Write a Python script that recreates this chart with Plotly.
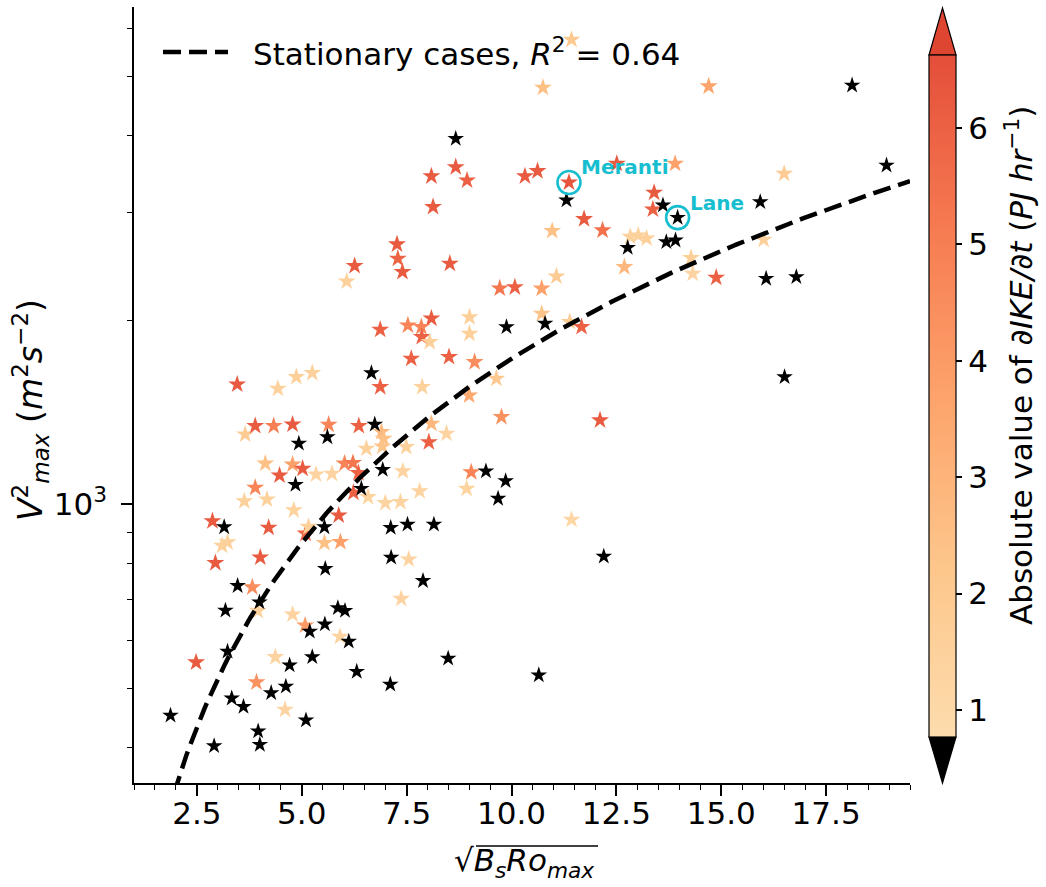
import numpy as np
import plotly.graph_objects as go

# ---------------- data ----------------
x_vals = [11.43, 10.75, 14.70, 18.12, 18.94, 16.50, 8.67, 8.67, 8.94, 8.09,
          8.13, 10.32, 10.62, 11.37, 11.31, 12.51, 13.90, 13.40, 13.61, 13.37,
          13.96, 11.73, 12.17, 10.97, 12.83, 13.02, 13.22, 12.77, 13.69, 13.91,
          12.69, 14.28, 14.32, 14.88, 16.07, 16.79, 15.93, 16.01, 16.51, 12.11,
          12.20, 10.65, 11.43, 9.88, 10.80, 10.72, 11.39, 11.67, 9.76, 9.64,
          9.72, 10.08, 10.72, 11.07, 7.27, 7.29, 7.40, 8.53, 6.26, 6.07,
          8.09, 7.53, 7.85, 7.86, 8.05, 9.00, 9.00, 6.87, 7.61, 8.51,
          9.12, 6.66, 6.87, 7.87, 3.46, 4.43, 4.87, 5.25, 8.99, 3.65,
          3.89, 4.33, 4.78, 4.93, 5.64, 5.61, 6.36, 6.74, 6.90, 6.95,
          6.54, 6.92, 7.49, 8.09, 8.03, 8.45, 9.04, 9.39, 9.86, 9.68,
          8.93, 7.81, 4.13, 4.78, 5.02, 4.47, 5.34, 5.72, 6.02, 6.22,
          6.35, 6.93, 7.41, 3.89, 3.63, 4.17, 4.81, 4.85, 6.42, 6.58,
          6.23, 6.99, 7.35, 2.87, 3.15, 4.21, 5.88, 5.54, 7.12, 7.52,
          8.15, 3.10, 3.23, 5.09, 5.16, 5.54, 5.92, 2.94, 4.01, 5.56,
          7.13, 7.55, 7.89, 7.37, 3.47, 3.82, 3.99, 3.95, 3.18, 4.78,
          5.08, 5.19, 5.55, 5.86, 6.03, 5.91, 6.12, 3.23, 2.48, 4.37,
          4.71, 5.25, 6.31, 8.49, 3.92, 4.62, 4.27, 3.33, 3.61, 4.60,
          7.11, 5.10, 1.87, 3.96, 4.00, 2.91]

y_vals = [5744, 4797, 4820, 4837, 3580, 3470, 3958, 3557, 3383, 3436,
          3061, 3436, 3504, 3357, 3139, 3603, 3603, 3231, 3081, 3034,
          2941, 2925, 2804, 2797, 2738, 2751, 2720, 2626, 2683, 2700,
          2442, 2527, 2382, 2347, 2338, 2352, 3119, 2707, 1615, 1372,
          822, 526, 944, 1949, 1974, 2049, 1986, 1949, 1389, 1605,
          2254, 2263, 2252, 2358, 2660, 2521, 2397, 2474, 2452, 2314,
          2012, 1961, 1949, 1877, 1842, 2023, 1901, 1930, 1730, 1741,
          1708, 1639, 1555, 1555, 1570, 1545, 1615, 1639, 1507, 1301,
          1343, 1343, 1351, 1257, 1350, 1288, 1343, 1351, 1313, 1280,
          1233, 1244, 1241, 1355, 1264, 1305, 1129, 1133, 1092, 1022,
          1061, 1051, 1166, 1162, 1144, 1115, 1119, 1122, 1166, 1169,
          1125, 1139, 1133, 1065, 1012, 1019, 978, 1077, 1061, 1028,
          1045, 1005, 1009, 939, 918, 916, 959, 918, 916, 927,
          927, 856, 867, 896, 919, 865, 868, 802, 819, 785,
          819, 813, 750, 701, 736, 732, 692, 670, 671, 661,
          634, 620, 637, 677, 670, 608, 597, 575, 552, 563,
          546, 563, 533, 560, 512, 504, 492, 482, 467, 462,
          508, 444, 452, 426, 405, 403]

# |dIKE/dt| (PJ/hr); values below the colour-bar minimum are drawn black
c_vals = [2.0, 2.5, 3.6, 0.4, 0.4, 1.8, 0.4, 6.2, 6.0, 6.2,
          6.2, 6.2, 6.2, 6.4, 0.4, 6.2, 3.8, 6.2, 0.4, 6.0,
          0.4, 6.2, 5.5, 2.5, 1.5, 1.5, 1.6, 0.4, 0.4, 0.4,
          2.8, 1.6, 1.3, 6.0, 0.4, 0.4, 0.4, 1.5, 0.4, 6.2,
          0.4, 0.4, 1.2, 0.4, 0.4, 2.3, 1.8, 6.0, 4.3, 2.0,
          5.3, 6.0, 3.8, 1.8, 6.2, 5.9, 6.2, 6.2, 6.2, 1.5,
          6.2, 4.8, 4.8, 6.0, 1.6, 1.6, 1.6, 6.0, 6.0, 6.0,
          4.5, 0.4, 6.0, 1.5, 6.2, 1.5, 1.6, 1.5, 3.5, 1.8,
          6.2, 5.0, 6.2, 0.4, 4.8, 0.4, 6.0, 0.4, 2.8, 2.5,
          1.5, 2.3, 1.5, 2.8, 6.0, 1.3, 4.8, 0.4, 0.4, 0.4,
          1.4, 1.3, 2.5, 3.8, 6.2, 6.2, 1.3, 1.3, 4.8, 5.3,
          6.0, 0.4, 1.3, 4.8, 1.5, 1.5, 1.4, 0.4, 0.4, 1.4,
          6.0, 1.3, 1.3, 6.2, 0.4, 6.2, 6.2, 0.4, 0.4, 0.4,
          0.4, 1.5, 1.5, 5.8, 1.5, 2.5, 3.8, 6.2, 6.2, 0.4,
          0.4, 1.3, 0.4, 1.3, 0.4, 4.5, 0.4, 1.5, 0.4, 1.3,
          4.0, 0.4, 0.4, 0.4, 0.4, 1.3, 0.4, 0.4, 6.2, 1.3,
          0.4, 0.4, 0.4, 0.4, 4.3, 0.4, 0.4, 0.4, 0.4, 1.3,
          0.4, 0.4, 0.4, 0.4, 0.4, 0.4]

fit_slope = 173.0          # stationary-case fit: V^2 = a * sqrt(Bs Ro)
fit_r2 = 0.64

highlight_names = ["Meranti", "Lane"]
highlight_x = [11.37, 13.96]
highlight_y = [3357, 2941]

x_ticks = [2.5, 5.0, 7.5, 10.0, 12.5, 15.0, 17.5]
y_ticks = [1000]
y_ticktext = ["10<sup>3</sup>"]
cbar_ticks = [1, 2, 3, 4, 5, 6]
c_min, c_max = 0.768, 6.627

x_title = "√<i>B<sub>s</sub>Ro<sub>max</sub></i>"
y_title = "<i>V</i><sup>2</sup><sub><i>max</i></sub> (<i>m</i><sup>2</sup><i>s</i><sup>−2</sup>)"
c_title = "Absolute value of <i>∂IKE/∂t</i> (<i>PJ hr</i><sup>−1</sup>)"

# ---------------- style / geometry ----------------
W, H = 1046, 887
ML, MR, MT, MB = 134, 136, 7, 104
PW, PH = W - ML - MR, H - MT - MB
FONT = "DejaVu Sans"
FS = 31
CYAN = "#17becf"
colorscale = [[0.0, "#fddcad"], [0.25, "#fdc68b"], [0.5, "#fda36b"],
              [0.75, "#f67a51"], [1.0, "#e44e3a"]]
OVER = "#df4632"

def px2paper(px, py):
    return (px - ML) / PW, (H - MB - py) / PH

x_arr = np.array(x_vals)
y_arr = np.array(y_vals)
c_arr = np.array(c_vals)
under = c_arr < c_min

fig = go.Figure()

# colour-mapped stars
cb_left, cb_w, cb_top, cb_bot = 929, 27, 55, 737
cbx, _ = px2paper(cb_left, 0)
_, cby = px2paper(0, (cb_top + cb_bot) / 2)
fig.add_trace(go.Scatter(
    x=x_arr[~under], y=y_arr[~under], mode="markers", showlegend=False,
    marker=dict(symbol="star", size=13.5, color=c_arr[~under],
                colorscale=colorscale, cmin=c_min, cmax=c_max,
                line=dict(width=0),
                showscale=True,
                colorbar=dict(
                    x=cbx, xanchor="left", xpad=0, ypad=0,
                    y=cby, yanchor="middle",
                    lenmode="pixels", len=cb_bot - cb_top,
                    thicknessmode="pixels", thickness=cb_w,
                    outlinewidth=1.2, outlinecolor="black",
                    tickvals=cbar_ticks, ticks="outside", ticklen=6,
                    tickwidth=1.5, tickcolor="black",
                    tickfont=dict(family=FONT, size=FS, color="black"),
                ))))

# values below colour range -> black stars
fig.add_trace(go.Scatter(
    x=x_arr[under], y=y_arr[under], mode="markers", showlegend=False,
    marker=dict(symbol="star", size=12.5, color="black", line=dict(width=0))))

# fit line
x_fit = np.linspace(1.0, 19.5, 300)
fig.add_trace(go.Scatter(
    x=x_fit, y=fit_slope * x_fit, mode="lines", showlegend=False,
    line=dict(color="black", width=4.5, dash="18px,8px")))

# highlighted cases
fig.add_trace(go.Scatter(
    x=highlight_x, y=highlight_y, mode="markers", showlegend=False,
    marker=dict(symbol="circle-open", size=23, color=CYAN,
                line=dict(width=2.6, color=CYAN))))
for name, hx, hy in zip(highlight_names, highlight_x, highlight_y):
    fig.add_annotation(x=hx, y=np.log10(hy), xref="x", yref="y",
                       text=f"<b>{name}</b>", showarrow=False,
                       xanchor="left", yanchor="middle",
                       xshift=10, yshift=15,
                       font=dict(family=FONT, size=20, color=CYAN))

# manual legend
lx0, ly = px2paper(163, 52)
lx1, _ = px2paper(228, 52)
tx, ty = px2paper(251, 52)
fig.add_shape(type="line", xref="paper", yref="paper",
              x0=lx0, x1=lx1, y0=ly, y1=ly,
              line=dict(color="black", width=4.5, dash="18px,8px"))
fig.add_annotation(x=tx, y=ty, xref="paper", yref="paper",
                   text=f"Stationary cases, <i>R</i><sup>2</sup> = {fit_r2:.2f}",
                   showarrow=False, xanchor="left", yanchor="middle",
                   font=dict(family=FONT, size=FS, color="black"))

# axis titles as annotations
ax_x, ax_y = px2paper(524, 862)
fig.add_annotation(x=ax_x, y=ax_y, xref="paper", yref="paper", text=x_title,
                   showarrow=False, xanchor="center", yanchor="middle",
                   font=dict(family=FONT, size=FS, color="black"))
ov0, ovy = px2paper(476, 846)
ov1, _ = px2paper(598, 846)
fig.add_shape(type="line", xref="paper", yref="paper", x0=ov0, x1=ov1, y0=ovy, y1=ovy,
              line=dict(color="black", width=1.6))
ay_x, ay_y = px2paper(31, 410)
fig.add_annotation(x=ay_x, y=ay_y, xref="paper", yref="paper", text=y_title,
                   textangle=-90, showarrow=False, xanchor="center", yanchor="middle",
                   font=dict(family=FONT, size=33, color="black"))
ac_x, ac_y = px2paper(1019, 366)
fig.add_annotation(x=ac_x, y=ac_y, xref="paper", yref="paper", text=c_title,
                   textangle=-90, showarrow=False, xanchor="center", yanchor="middle",
                   font=dict(family=FONT, size=FS, color="black"))

# colour-bar extension triangles
cx = cb_left + cb_w / 2
tri_top = [px2paper(cb_left, cb_top), px2paper(cb_left + cb_w, cb_top), px2paper(cx, MT + 1)]
tri_bot = [px2paper(cb_left, cb_bot), px2paper(cb_left + cb_w, cb_bot), px2paper(cx, H - MB)]
def tri_path(pts):
    return "M{},{} L{},{} L{},{} Z".format(pts[0][0], pts[0][1], pts[1][0], pts[1][1], pts[2][0], pts[2][1])
fig.add_shape(type="path", xref="paper", yref="paper", path=tri_path(tri_top),
              fillcolor=OVER, line=dict(color="black", width=1.2))
fig.add_shape(type="path", xref="paper", yref="paper", path=tri_path(tri_bot),
              fillcolor="black", line=dict(color="black", width=1.2))

x_minor = list(np.arange(1.0, 19.51, 0.5))
y_minor = [400, 500, 600, 700, 800, 900, 2000, 3000, 4000, 5000, 6000]

fig.update_layout(
    width=W, height=H,
    margin=dict(l=ML, r=MR, t=MT, b=MB, autoexpand=False),
    paper_bgcolor="white", plot_bgcolor="white",
    font=dict(family=FONT, size=FS, color="black"),
    xaxis=dict(
        range=[1.0, 19.5], showgrid=False, zeroline=False,
        showline=True, linecolor="black", linewidth=1.6,
        tickvals=x_ticks, ticktext=[f"{v:.1f}" for v in x_ticks],
        ticks="outside", ticklen=11, tickwidth=1.8, tickcolor="black",
        ticklabelstandoff=-9,
        tickfont=dict(family=FONT, size=FS, color="black"),
        minor=dict(tickvals=x_minor, ticks="outside", ticklen=5,
                   tickwidth=1.2, tickcolor="black", showgrid=False),
    ),
    yaxis=dict(
        type="log", range=[np.log10(350.5), np.log10(6495)],
        showgrid=False, zeroline=False,
        showline=True, linecolor="black", linewidth=1.6,
        tickvals=y_ticks, ticktext=y_ticktext,
        ticks="outside", ticklen=11, tickwidth=1.8, tickcolor="black",
        ticklabelstandoff=8,
        tickfont=dict(family=FONT, size=FS, color="black"),
        minor=dict(tickvals=y_minor, ticks="outside", ticklen=5,
                   tickwidth=1.2, tickcolor="black", showgrid=False),
    ),
)

fig.write_html("out.html", config={"displayModeBar": False},
               post_script="document.body.style.margin='0px';document.body.style.padding='0px';")
